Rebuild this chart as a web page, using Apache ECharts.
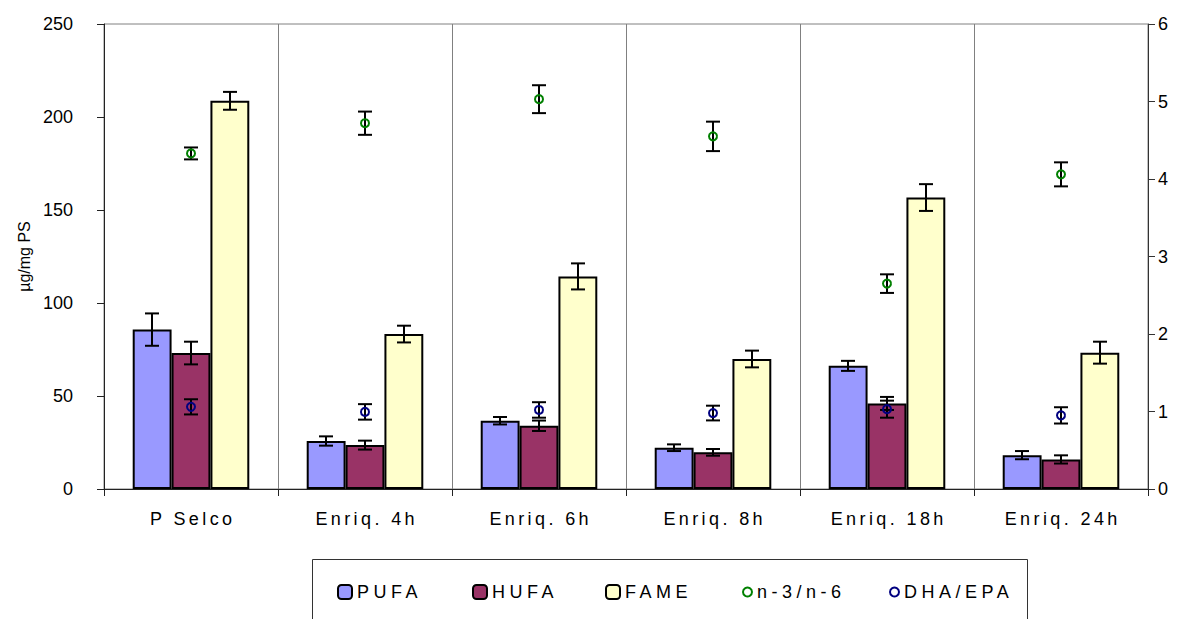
<!DOCTYPE html>
<html>
<head>
<meta charset="utf-8">
<title>PUFA / HUFA / FAME</title>
<script src="https://cdn.jsdelivr.net/npm/echarts@6/dist/echarts.min.js"></script>
<style>
  html, body { margin: 0; padding: 0; background: #fff; }
  #chart { width: 1189px; height: 619px; }
</style>
</head>
<body>
<div id="chart"></div>
<script>
// Sample groups along the x axis
const categories = ['P Selco', 'Enriq. 4h', 'Enriq. 6h', 'Enriq. 8h', 'Enriq. 18h', 'Enriq. 24h'];

// Fatty acid contents (µg/mg PS) with their standard deviations
const pufa    = [85.7, 25.8, 36.7, 22.2, 66.2, 18.2];
const pufaErr = [8.7, 2.5, 2.0, 1.8, 2.7, 2.2];
const hufa    = [73.1, 23.6, 34.0, 19.7, 46.0, 15.9];
const hufaErr = [6.1, 2.4, 2.8, 1.8, 3.5, 2.2];
const fame    = [208.7, 83.3, 114.3, 69.9, 156.7, 73.3];
const fameErr = [4.8, 4.5, 7.0, 4.5, 7.2, 5.9];

// Ratios (right axis) with their standard deviations
const n3n6      = [4.33, 4.72, 5.03, 4.55, 2.65, 4.06];
const n3n6Err   = [0.077, 0.15, 0.18, 0.19, 0.12, 0.155];
const dhaEpa    = [1.06, 0.995, 1.02, 0.98, 1.03, 0.95];
const dhaEpaErr = [0.098, 0.10, 0.10, 0.095, 0.11, 0.105];

// Axis ticks
const leftTicks  = { min: 0, max: 250, interval: 50 };
const rightTicks = { min: 0, max: 6, interval: 1 };

const FONT = 'Liberation Sans, Arial, sans-serif';
const CATEGORY_GAP = 0.33;   // fraction of each band left empty around the bar group
const BARS_PER_GROUP = 3;

// Vertical error bar drawn at a bar slot (-1, 0, +1) inside a category band
function errorBars(name, values, errs, yAxisIndex, slot, capWidth) {
  return {
    type: 'custom',
    name: name,
    yAxisIndex: yAxisIndex,
    z: 5,
    silent: true,
    encode: { x: 0, y: [1, 2] },
    data: values.map((v, i) => [i, v - errs[i], v + errs[i]]),
    renderItem: function (params, api) {
      const idx = api.value(0);
      const lo = api.coord([idx, api.value(1)]);
      const hi = api.coord([idx, api.value(2)]);
      const band = api.size([1, 0])[0];
      const barW = band * (1 - CATEGORY_GAP) / BARS_PER_GROUP;
      const x = Math.round(lo[0] + slot * barW);
      const h = capWidth / 2;
      const st = { stroke: '#000', lineWidth: 2 };
      return {
        type: 'group',
        children: [
          { type: 'line', shape: { x1: x, y1: hi[1], x2: x, y2: lo[1] }, style: st },
          { type: 'line', shape: { x1: x - h, y1: hi[1], x2: x + h, y2: hi[1] }, style: st },
          { type: 'line', shape: { x1: x - h, y1: lo[1], x2: x + h, y2: lo[1] }, style: st }
        ]
      };
    }
  };
}

function barSeries(name, values, color) {
  return {
    type: 'bar',
    name: name,
    data: values,
    barGap: '0%',
    barCategoryGap: (CATEGORY_GAP * 100) + '%',
    z: 2,
    itemStyle: { color: color, borderColor: '#000', borderWidth: 2 }
  };
}

function ratioSeries(name, values, color) {
  return {
    type: 'scatter',
    name: name,
    yAxisIndex: 1,
    data: values.map((v, i) => [i, v]),
    symbol: 'circle',
    symbolSize: 8,
    z: 6,
    itemStyle: { color: 'rgba(0,0,0,0)', borderColor: color, borderWidth: 2, opacity: 1 }
  };
}

function legendItem(name, left, size) {
  return {
    data: [name],
    left: left,
    top: 583,
    padding: 0,
    itemGap: 0,
    itemWidth: size,
    itemHeight: size,
    selectedMode: false,
    textStyle: { fontFamily: FONT, fontSize: 18, color: '#000', lineHeight: 18 }
  };
}

const chart = echarts.init(document.getElementById('chart'), null, { renderer: 'svg' });

chart.setOption({
  animation: false,
  backgroundColor: '#fff',
  grid: {
    left: 104, right: 41, top: 24, bottom: 130,
    show: true, borderColor: '#808080', borderWidth: 1, backgroundColor: 'transparent'
  },
  legend: [
    legendItem('PUFA', 337, 14),
    legendItem('HUFA', 472, 14),
    legendItem('FAME', 605, 14),
    legendItem('n-3/n-6', 742, 9),
    legendItem('DHA/EPA', 889, 9)
  ],
  graphic: [{
    type: 'rect',
    shape: { x: 312.5, y: 559.5, width: 715, height: 100 },
    style: { fill: 'none', stroke: '#333', lineWidth: 1 },
    z: -1
  }],
  xAxis: {
    type: 'category',
    data: categories,
    boundaryGap: true,
    axisLine: { lineStyle: { color: '#222', width: 1 } },
    axisTick: { show: true, inside: false, length: 7, lineStyle: { color: '#222' } },
    axisLabel: { fontFamily: FONT, fontSize: 18, color: '#000', margin: 21 },
    splitLine: { show: true, lineStyle: { color: '#808080', width: 1 } }
  },
  yAxis: [{
    type: 'value',
    min: leftTicks.min, max: leftTicks.max, interval: leftTicks.interval,
    name: 'µg/mg PS',
    nameLocation: 'middle',
    nameGap: 44,
    nameTextStyle: { fontFamily: FONT, fontSize: 16, color: '#000' },
    axisLine: { show: true, lineStyle: { color: '#222', width: 1 } },
    axisTick: { show: true, length: 7, lineStyle: { color: '#222' } },
    axisLabel: { fontFamily: FONT, fontSize: 18, color: '#000', margin: 31 },
    splitLine: { show: false }
  }, {
    type: 'value',
    position: 'right',
    min: rightTicks.min, max: rightTicks.max, interval: rightTicks.interval,
    axisLine: { show: true, lineStyle: { color: '#333', width: 1 } },
    axisTick: { show: true, length: 7, lineStyle: { color: '#333' } },
    axisLabel: { fontFamily: FONT, fontSize: 18, color: '#000', margin: 10 },
    splitLine: { show: false }
  }],
  series: [
    barSeries('PUFA', pufa, '#9999FF'),
    barSeries('HUFA', hufa, '#993366'),
    barSeries('FAME', fame, '#FFFFCC'),
    errorBars('PUFA sd', pufa, pufaErr, 0, -1, 14),
    errorBars('HUFA sd', hufa, hufaErr, 0, 0, 14),
    errorBars('FAME sd', fame, fameErr, 0, 1, 14),
    errorBars('n-3/n-6 sd', n3n6, n3n6Err, 1, 0, 14),
    errorBars('DHA/EPA sd', dhaEpa, dhaEpaErr, 1, 0, 14),
    ratioSeries('n-3/n-6', n3n6, '#008000'),
    ratioSeries('DHA/EPA', dhaEpa, '#000080')
  ]
});

// Spaced lettering for the category names and the legend entries
const spaced = {};
categories.forEach(c => { spaced[c] = 3.4; });
['PUFA', 'HUFA', 'FAME', 'n-3/n-6', 'DHA/EPA'].forEach(n => { spaced[n] = 4.5; });
function applySpacing() {
  chart.getDom().querySelectorAll('text').forEach(t => {
    const s = spaced[t.textContent];
    if (s !== undefined) {
      t.style.letterSpacing = s + 'px';
      if (t.getAttribute('text-anchor') === 'middle') {
        t.setAttribute('dx', (s / 2).toFixed(1));
      }
    }
  });
}
applySpacing();
chart.on('finished', applySpacing);
</script>
</body>
</html>
